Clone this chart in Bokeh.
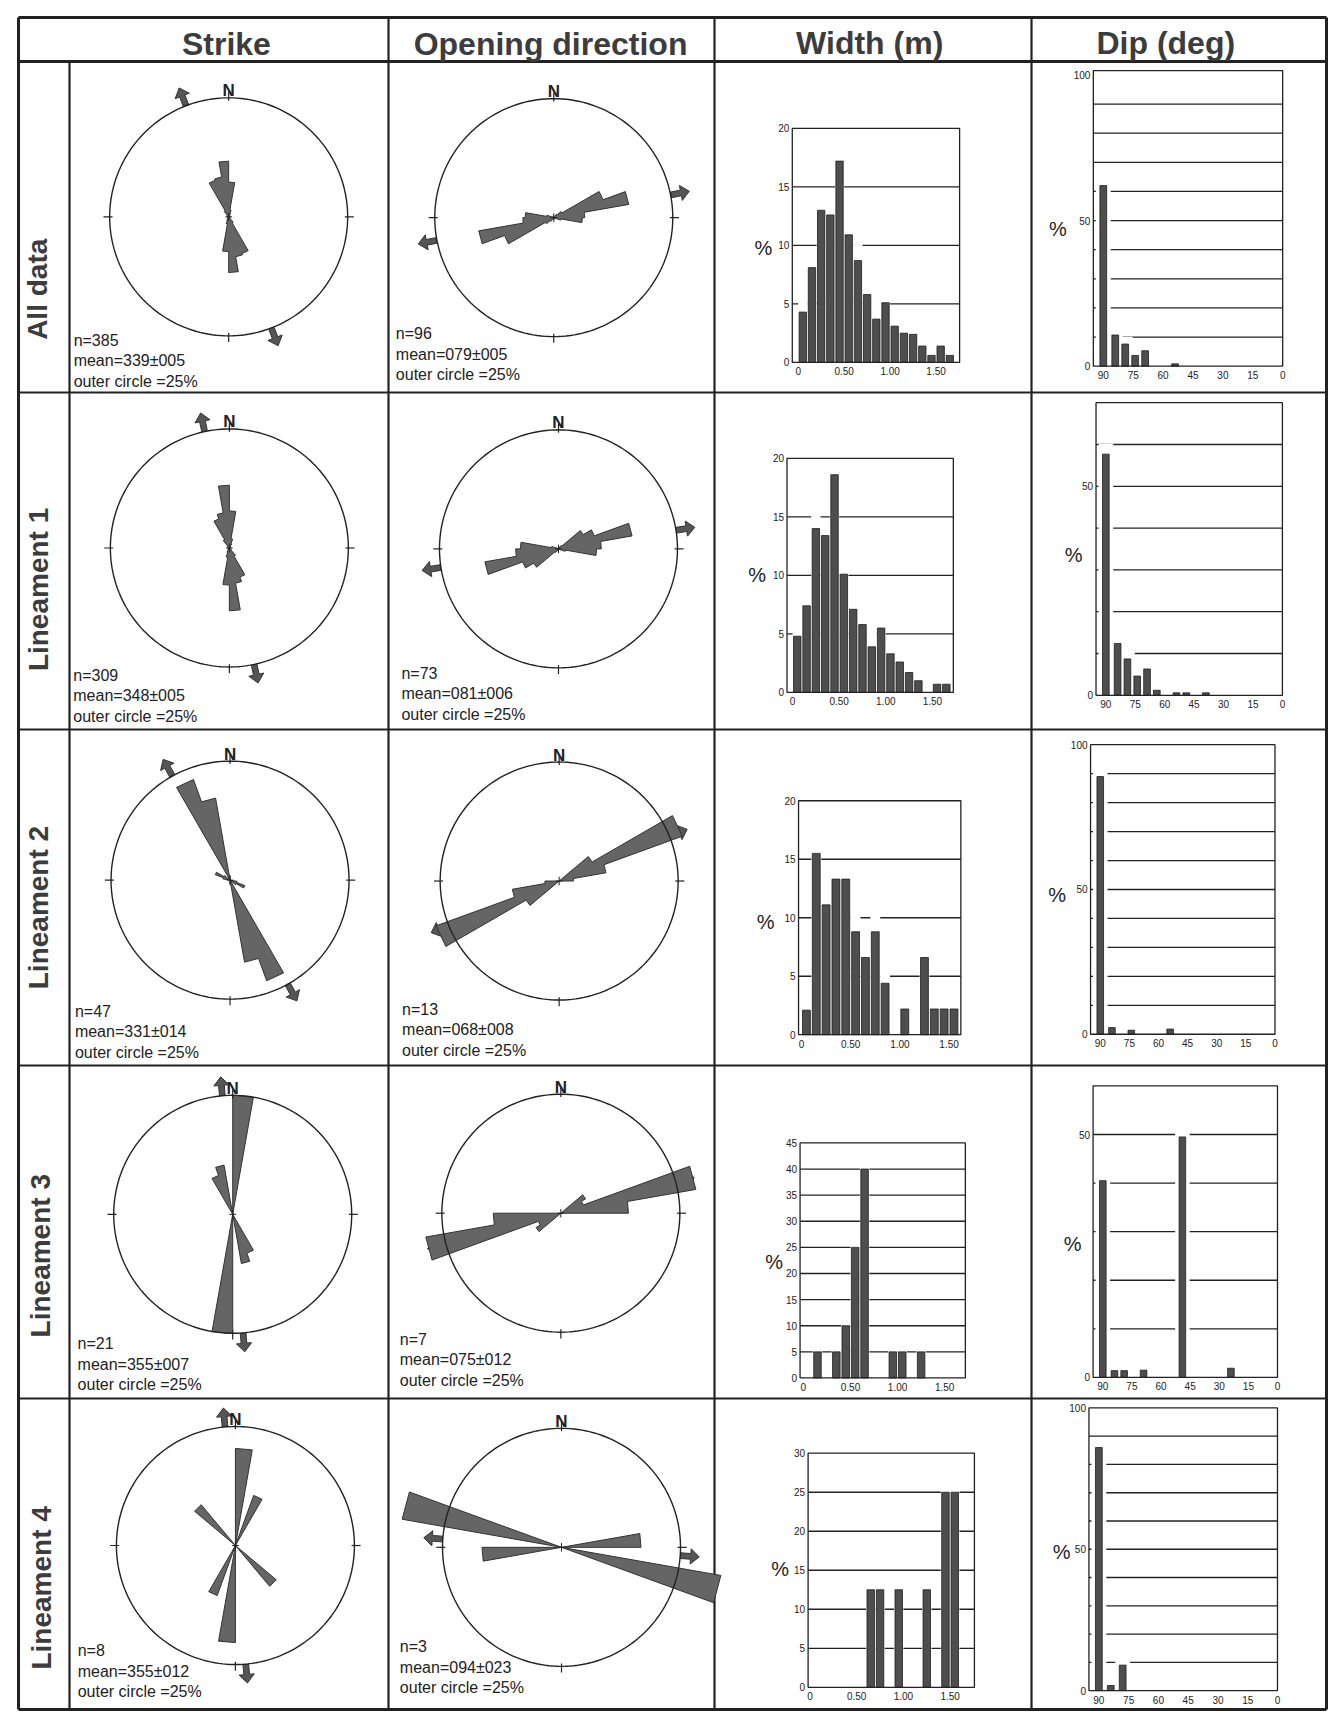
import math
from bokeh.plotting import figure
from bokeh.models import Range1d
from bokeh.embed import file_html
from bokeh.resources import INLINE
from bokeh.core.properties import value

# ------------------------------------------------------------------ data
row_labels = ["All data", "Lineament 1", "Lineament 2", "Lineament 3", "Lineament 4"]
col_headers = ["Strike", "Opening direction", "Width (m)", "Dip (deg)"]

strike_n = [385, 309, 47, 21, 8]
strike_mean = [339, 348, 331, 355, 355]
strike_err = [5, 5, 14, 7, 12]
opening_n = [96, 73, 13, 7, 3]
opening_mean = [79, 81, 68, 75, 94]
opening_err = [5, 6, 8, 12, 23]
outer_circle_pct = 25

# rose diagrams: % per 10-degree bin over 0-180 (axial, mirrored to 180-360)
rose_bin_start = [0, 10, 20, 30, 40, 50, 60, 70, 80, 90, 100, 110, 120, 130, 140, 150, 160, 170]
strike_all = [7.3, 1.5, 0.8, 0.5, 0.3, 0.3, 0.3, 0.3, 0.3, 0.3, 0.3, 0.3, 0.3, 0.5, 1.5, 8.2, 8.5, 11.7]
strike_l1 = [7.8, 2.0, 1.0, 0.5, 0.3, 0.3, 0.3, 0.3, 0.3, 0.3, 0.3, 0.3, 0.4, 0.6, 2.0, 6.5, 7.5, 13.2]
strike_l2 = [0.5, 0, 0, 0, 0, 0, 0, 0, 0, 0, 1.5, 3.3, 1.5, 0, 0, 22.5, 17.5, 1.0]
strike_l3 = [25.0, 0, 0, 0, 0, 0, 0, 0, 0, 0, 0, 0, 0, 0, 0, 8.7, 10.5, 0]
strike_l4 = [20.4, 0, 11.2, 0, 0, 0, 0, 0, 0, 0, 0, 0, 0, 11.2, 0, 0, 0, 0]
open_all = [0.3, 0.3, 0.3, 0.5, 1.0, 2.0, 11.0, 16.0, 6.5, 6.0, 1.5, 0.5, 0.3, 0.3, 0.3, 0.3, 0.3, 0.3]
open_l1 = [0, 0, 0, 0.5, 1.0, 6.0, 8.0, 15.7, 9.0, 8.0, 1.5, 0.5, 0, 0, 0, 0, 0, 0]
open_l2 = [0, 0, 0, 0, 0, 8.0, 27.5, 10.0, 3.0, 0, 0, 0, 0, 0, 0, 0, 0, 0]
open_l3 = [0, 0, 0, 0, 0, 6.0, 5.0, 28.8, 14.2, 0, 0, 0, 0, 0, 0, 0, 0, 0]
open_l4 = [0, 0, 0, 0, 0, 0, 0, 0, 16.7, 0, 34.0, 0, 0, 0, 0, 0, 0, 0]
strike_roses = [strike_all, strike_l1, strike_l2, strike_l3, strike_l4]
open_roses = [open_all, open_l1, open_l2, open_l3, open_l4]

# width histograms: % per 0.1 m bin
width_bin_start = [0.0, 0.1, 0.2, 0.3, 0.4, 0.5, 0.6, 0.7, 0.8, 0.9, 1.0, 1.1, 1.2, 1.3, 1.4, 1.5, 1.6]
width_all = [4.3, 8.1, 13.0, 12.6, 17.2, 10.9, 8.7, 5.8, 3.7, 5.1, 3.1, 2.5, 2.4, 1.4, 0.6, 1.4, 0.6]
width_l1 = [4.8, 7.4, 14.0, 13.4, 18.6, 10.1, 7.1, 5.8, 3.9, 5.5, 3.3, 2.6, 1.7, 1.0, 0, 0.7, 0.7]
width_l2 = [2.1, 15.5, 11.1, 13.3, 13.3, 8.8, 6.6, 8.8, 4.4, 0, 2.2, 0, 6.6, 2.2, 2.2, 2.2, 0]
width_l3 = [0, 5, 0, 5, 10, 25, 40, 0, 0, 5, 5, 0, 5, 0, 0, 0, 0]
width_l4 = [0, 0, 0, 0, 0, 0, 12.5, 12.5, 0, 12.5, 0, 0, 12.5, 0, 25, 25, 0]
width_sets = [width_all, width_l1, width_l2, width_l3, width_l4]
width_yticks = [[0, 5, 10, 15, 20], [0, 5, 10, 15, 20], [0, 5, 10, 15, 20],
                [0, 5, 10, 15, 20, 25, 30, 35, 40, 45], [0, 5, 10, 15, 20, 25, 30]]
width_xticks = [0, 0.5, 1.0, 1.5]
width_xlabels = ["0", "0.50", "1.00", "1.50"]

# dip histograms: % per bin (dip in degrees)
dip_all_x = [90, 84, 79, 74, 69, 54]
dip_all_y = [62.0, 10.7, 7.6, 3.7, 5.3, 0.8]
dip_l1_x = [90, 84, 79, 74, 69, 64, 54, 49, 39]
dip_l1_y = [57.7, 12.4, 8.7, 4.6, 6.3, 1.2, 0.6, 0.6, 0.6]
dip_l2_x = [90, 84, 74, 54]
dip_l2_y = [89.0, 2.3, 1.4, 1.8]
dip_l3_x = [90, 84, 79, 69, 49, 24]
dip_l3_y = [40.5, 1.4, 1.4, 1.5, 49.5, 1.9]
dip_l4_x = [90, 84, 78]
dip_l4_y = [86.0, 1.8, 9.0]
dip_sets = [(dip_all_x, dip_all_y), (dip_l1_x, dip_l1_y), (dip_l2_x, dip_l2_y),
            (dip_l3_x, dip_l3_y), (dip_l4_x, dip_l4_y)]
dip_ymax = [101.5, 70, 100, 60, 100]
dip_yticks = [[0, 50, 100], [0, 50], [0, 50, 100], [0, 50], [0, 50, 100]]
dip_grid = [[10, 20, 30, 40, 50, 60, 70, 80, 90], [10, 20, 30, 40, 50, 60],
            [10, 20, 30, 40, 50, 60, 70, 80, 90], [10, 20, 30, 40, 50],
            [10, 20, 30, 40, 50, 60, 70, 80, 90]]
dip_xticks = [90, 75, 60, 45, 30, 15, 0]

# ------------------------------------------------------------------ layout
W, H = 1328, 1716
FONT = value("Liberation Sans")
INK = "#222222"
BAR = "#4e4e4e"
PETAL = "#656565"


def D(x, y):
    """reference page position -> straightened canvas position"""
    return (x - 0.016 * (y - 870) - 8, y + 0.024 * (x - 670) - 8)


TX = [18, 69, 388, 714, 1031, 1326]
TY = [17, 61, 392, 729, 1065, 1398, 1709]

p = figure(width=W, height=H, x_range=Range1d(0, W), y_range=Range1d(H, 0),
           x_axis_type=None, y_axis_type=None, output_backend="svg",
           toolbar_location=None, min_border=0, outline_line_color=None,
           background_fill_color="white", border_fill_color="white")

# table lines
p.segment(x0=[TX[0]] * 2, x1=[TX[-1]] * 2, y0=[TY[0], TY[1]], y1=[TY[0], TY[1]],
          line_color=INK, line_width=3)
p.segment(x0=[TX[0]] * 4, x1=[TX[-1]] * 4, y0=TY[2:6], y1=TY[2:6],
          line_color=INK, line_width=2.2)
p.segment(x0=[TX[0]], x1=[TX[-1]], y0=[TY[-1]], y1=[TY[-1]], line_color=INK, line_width=3)
p.segment(x0=[TX[0], TX[-1]], x1=[TX[0], TX[-1]], y0=[TY[0]] * 2, y1=[TY[-1]] * 2,
          line_color=INK, line_width=3)
p.segment(x0=[TX[1]], x1=[TX[1]], y0=[TY[1]], y1=[TY[-1]], line_color=INK, line_width=2.2)
p.segment(x0=TX[2:5], x1=TX[2:5], y0=[TY[0]] * 3, y1=[TY[-1]] * 3,
          line_color=INK, line_width=2.2)

# headers
header_ref = [(221, 62), (545, 54), (864, 46), (1160, 39)]
hp = [D(*r) for r in header_ref]
p.text(x=[h[0] for h in hp], y=[h[1] for h in hp], text=col_headers,
       text_font=FONT, text_font_style="bold", text_font_size="32px",
       text_color="#3c3c3c", text_align="center", text_baseline="middle")

# row labels (rotated)
label_ref = [(36, 312), (42, 612), (47, 930), (55, 1278), (61, 1610)]
lp = [D(*r) for r in label_ref]
p.text(x=[l[0] for l in lp], y=[l[1] for l in lp], text=row_labels, angle=math.pi / 2,
       text_font=FONT, text_font_style="bold", text_font_size="28px",
       text_color="#3c3c3c", text_align="center", text_baseline="middle")


def rose(center_ref, vals, mean_deg):
    cx, cy = D(*center_ref)
    R = 119
    lim = outer_circle_pct
    s = p.subplot(x_source=Range1d(-lim, lim), y_source=Range1d(-lim, lim),
                  x_target=Range1d(cx - R, cx + R), y_target=Range1d(cy + R, cy - R))
    # mean direction arrows (drawn first, petals may cover them)
    axs, ays = [], []
    for th in (mean_deg, mean_deg + 180):
        t = math.radians(th)
        ux, uy = math.sin(t), math.cos(t)
        vx, vy = math.cos(t), -math.sin(t)
        r0, rh, rt, sw, hw = lim + 0.1, lim + 2.2, lim + 4.0, 0.6, 1.6
        pts = [(r0, -sw), (rh, -sw), (rh, -hw), (rt, 0), (rh, hw), (rh, sw), (r0, sw)]
        axs.append([a * ux + b * vx for a, b in pts])
        ays.append([a * uy + b * vy for a, b in pts])
    s.patches(axs, ays, fill_color="#555555", line_color="#333333", line_width=1)
    # petals
    starts = rose_bin_start + [a + 180 for a in rose_bin_start]
    radii = list(vals) + list(vals)
    xs, ys = [], []
    for a, r in zip(starts, radii):
        for ang in (a, a + 10):
            t = math.radians(ang)
            xs.append(r * math.sin(t))
            ys.append(r * math.cos(t))
    s.patch(xs, ys, fill_color=PETAL, line_color="#333333", line_width=1)
    # outer circle
    ts = [math.radians(k) for k in range(0, 362, 2)]
    s.line([lim * math.sin(t) for t in ts], [lim * math.cos(t) for t in ts],
           line_color=INK, line_width=1.4)
    # cardinal ticks
    card = [0, 90, 180, 270]
    s.segment(x0=[(lim - 0.6) * math.sin(math.radians(c)) for c in card],
              y0=[(lim - 0.6) * math.cos(math.radians(c)) for c in card],
              x1=[(lim + 1.3) * math.sin(math.radians(c)) for c in card],
              y1=[(lim + 1.3) * math.cos(math.radians(c)) for c in card],
              line_color=INK, line_width=1.2)
    # centre cross
    s.segment(x0=[-0.7, 0], x1=[0.7, 0], y0=[0, -0.9], y1=[0, 0.9],
              line_color=INK, line_width=1)
    # north label
    s.text(x=[0], y=[lim], text=["N"], y_offset=-7, text_font=FONT,
           text_font_style="bold", text_font_size="17px", text_color=INK,
           text_align="center", text_baseline="alphabetic")


def stats(ref, n, mean, err):
    x, y = D(*ref)
    lines = ["n=%d" % n, "mean=%03d\u00b1%03d" % (mean, err),
             "outer circle =%d%%" % outer_circle_pct]
    p.text(x=[x] * 3, y=[y, y + 20.5, y + 41], text=lines, text_font=FONT,
           text_font_size="16px", text_color=INK, text_align="left",
           text_baseline="middle")


def hist(tl, br, xr, yr, bx, bh, bw, halo_w, halo_pad, grid, yticks, ylabels,
         xticks, xlabels, pct_ref):
    x0, y0 = D(*tl)
    x1, y1 = D(*br)
    s = p.subplot(x_source=Range1d(*xr), y_source=Range1d(*yr),
                  x_target=Range1d(x0, x1), y_target=Range1d(y1, y0))
    s.segment(x0=[xr[0]] * len(grid), x1=[xr[1]] * len(grid), y0=grid, y1=grid,
              line_color=INK, line_width=1.3)
    keep = [(x, h) for x, h in zip(bx, bh) if h > 0]
    kx = [k[0] for k in keep]
    kh = [k[1] for k in keep]
    s.vbar(x=kx, top=[h + halo_pad for h in kh], bottom=0, width=halo_w,
           fill_color="white", line_color=None)
    s.vbar(x=kx, top=kh, bottom=0, width=bw, fill_color=BAR, line_color="#1e1e1e",
           line_width=0.8)
    s.quad(left=[xr[0]], right=[xr[1]], bottom=[yr[0]], top=[yr[1]],
           fill_color=None, line_color=INK, line_width=1.3)
    s.text(x=[xr[0]] * len(yticks), y=yticks, text=ylabels, x_offset=-3,
           text_font=FONT, text_font_size="10px", text_color=INK,
           text_align="right", text_baseline="middle")
    s.text(x=xticks, y=[yr[0]] * len(xticks), text=xlabels, y_offset=5,
           text_font=FONT, text_font_size="10px", text_color=INK,
           text_align="center", text_baseline="top")
    px, py = D(*pct_ref)
    p.text(x=[px], y=[py], text=["%"], text_font=FONT, text_font_size="20px",
           text_color=INK, text_align="center", text_baseline="middle")


# positions (before straightening)
strike_center_ref = [(226, 235), (232, 566), (238, 898), (246, 1232), (254, 1563)]
open_center_ref = [(551, 228), (561, 559), (567, 891), (574, 1223), (580, 1557)]
strike_text_ref = [(73, 362), (78, 697), (85, 1033), (93, 1365), (98, 1672)]
open_text_ref = [(395, 348), (406, 687), (412, 1023), (415, 1353), (420, 1660)]

width_tl = [(788, 133), (788, 463), (805, 805), (812, 1147), (825, 1457)]
width_br = [(959, 363), (958, 693), (971, 1035), (981, 1378), (995, 1687)]
width_xr = [(-0.064, 1.756), (-0.06, 1.725), (-0.03, 1.62), (-0.035, 1.72), (-0.02, 1.76)]
width_pct = [(761, 253), (760, 580), (774, 927), (788, 1267), (799, 1573)]

dip_tl = [(1088, 68), (1096, 400), (1096, 742), (1104, 1083), (1105, 1405)]
dip_br = [(1282, 359), (1287, 688), (1285, 1027), (1293, 1370), (1298, 1683)]
dip_pct = [(1055, 227), (1076, 553), (1065, 893), (1086, 1242), (1080, 1550)]

for i in range(5):
    rose(strike_center_ref[i], strike_roses[i], strike_mean[i])
    stats(strike_text_ref[i], strike_n[i], strike_mean[i], strike_err[i])
    rose(open_center_ref[i], open_roses[i], opening_mean[i])
    stats(open_text_ref[i], opening_n[i], opening_mean[i], opening_err[i])

    yt = width_yticks[i]
    ymax = yt[-1]
    hist(width_tl[i], width_br[i], width_xr[i], (0, ymax),
         [b + 0.05 for b in width_bin_start], width_sets[i], 0.08, 0.1, 0.07 * ymax,
         yt[1:-1], yt, [str(v) for v in yt], width_xticks, width_xlabels, width_pct[i])

    dx, dy = dip_sets[i]
    hist(dip_tl[i], dip_br[i], (95, 0), (0, dip_ymax[i]), dx, dy, 3.4, 7.5, 2.5,
         dip_grid[i], dip_yticks[i], [str(v) for v in dip_yticks[i]],
         dip_xticks, [str(v) for v in dip_xticks], dip_pct[i])

open("out.html", "w").write(file_html(p, INLINE))
